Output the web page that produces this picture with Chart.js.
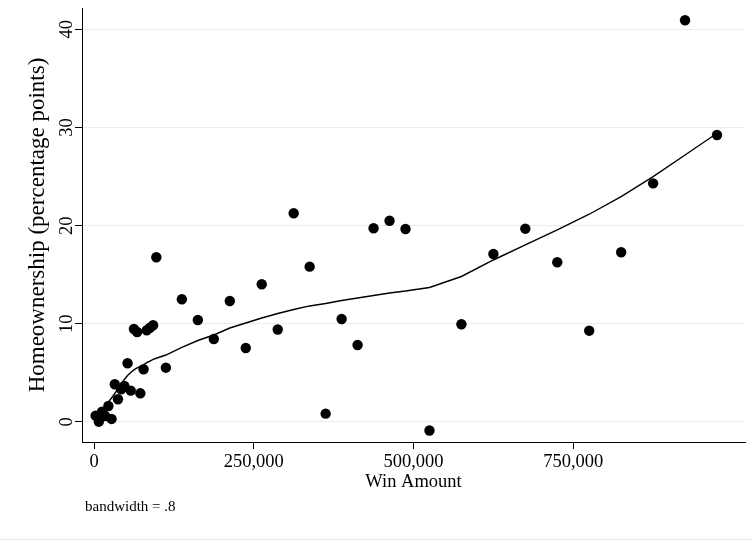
<!DOCTYPE html>
<html>
<head>
<meta charset="utf-8">
<title>Homeownership by Win Amount</title>
<script src="https://cdn.jsdelivr.net/npm/chart.js@4/dist/chart.umd.min.js"></script>
<style>
  html, body { margin: 0; padding: 0; background: #ffffff; }
  #wrap { width: 753px; height: 542px; }
</style>
</head>
<body>
<div id="wrap"><canvas id="chart" width="753" height="542"></canvas></div>
<script>
// Win amount (bin midpoints, dollars)
const winAmount = [
  2500, 7500, 12500, 17500, 22500, 27500, 32500, 37500, 42500, 47500,
  52500, 57500, 62500, 67500, 72500, 77500, 82500, 87500, 92500, 97500,
  112500, 137500, 162500, 187500, 212500, 237500, 262500, 287500,
  312500, 337500, 362500, 387500, 412500, 437500, 462500, 487500,
  525000, 575000, 625000, 675000, 725000, 775000, 825000, 875000, 925000, 975000
];

// Homeownership effect (percentage points) per bin
const homeownership = [
  0.64, 0.03, 1.05, 0.61, 1.63, 0.31, 3.84, 2.31, 3.33, 3.67,
  5.98, 3.19, 9.47, 9.17, 2.92, 5.37, 9.34, 9.60, 9.85, 16.78,
  5.53, 12.50, 10.39, 8.45, 12.32, 7.54, 14.03, 9.42,
  21.26, 15.82, 0.85, 10.49, 7.84, 19.73, 20.50, 19.66,
  -0.87, 9.95, 17.11, 19.69, 16.27, 9.30, 17.29, 24.31, 40.92, 29.23
];

// Lowess fit at each bin (bandwidth = .8)
const lowessFit = [
  0.41, 0.81, 1.22, 1.63, 2.04, 2.44, 2.90, 3.36, 3.87, 4.33,
  4.74, 5.04, 5.30, 5.50, 5.65, 5.81, 6.04, 6.21, 6.37, 6.49,
  6.82, 7.59, 8.30, 8.86, 9.57, 10.08, 10.59, 11.05,
  11.46, 11.82, 12.07, 12.38, 12.63, 12.89, 13.14, 13.34,
  13.70, 14.82, 16.50, 18.03, 19.56, 21.16, 22.95, 24.99, 27.20, 29.41
];

// Axis ticks
const xTickValues = [0, 250000, 500000, 750000];
const xTickLabels = ['0', '250,000', '500,000', '750,000'];
const yTickValues = [0, 10, 20, 30, 40];
const yTickLabels = ['0', '10', '20', '30', '40'];

const SERIF = '"Liberation Serif", "Times New Roman", serif';

// Vertical y tick labels, the bandwidth note and the bottom rule
const decorations = {
  id: 'decorations',
  afterDraw(chart) {
    const { ctx, scales: { y } } = chart;
    ctx.save();
    ctx.fillStyle = '#000';
    ctx.font = '18.5px ' + SERIF;
    ctx.textAlign = 'center';
    ctx.textBaseline = 'middle';
    yTickValues.forEach((v, i) => {
      const py = y.getPixelForValue(v);
      ctx.save();
      ctx.translate(67, py);
      ctx.rotate(-Math.PI / 2);
      ctx.fillText(yTickLabels[i], 0, 0);
      ctx.restore();
    });

    ctx.font = '15px ' + SERIF;
    ctx.textAlign = 'left';
    ctx.fillText('bandwidth = .8', 85, 507);

    ctx.strokeStyle = '#e3e7ea';
    ctx.lineWidth = 1;
    ctx.beginPath();
    ctx.moveTo(0, 539.5);
    ctx.lineTo(753, 539.5);
    ctx.stroke();
    ctx.restore();
  }
};

new Chart(document.getElementById('chart'), {
  type: 'scatter',
  data: {
    datasets: [
      {
        label: 'Lowess',
        type: 'line',
        data: winAmount.map((x, i) => ({ x, y: lowessFit[i] })),
        borderColor: '#000',
        borderWidth: 1.4,
        pointRadius: 0,
        tension: 0,
        fill: false
      },
      {
        label: 'Homeownership',
        data: winAmount.map((x, i) => ({ x, y: homeownership[i] })),
        backgroundColor: '#000',
        borderColor: '#000',
        borderWidth: 0,
        pointRadius: 5.2,
        pointHoverRadius: 5.2
      }
    ]
  },
  options: {
    responsive: false,
    devicePixelRatio: 1,
    animation: false,
    layout: { padding: { left: 0, right: 8, top: 8, bottom: 0 } },
    plugins: {
      legend: { display: false },
      tooltip: { enabled: false }
    },
    scales: {
      x: {
        type: 'linear',
        min: -18800,
        max: 1018800,
        afterBuildTicks: s => { s.ticks = xTickValues.map(v => ({ value: v })); },
        afterFit: s => { s.height = 100; },
        border: { display: true, color: '#000', width: 1 },
        grid: {
          drawOnChartArea: false,
          drawTicks: true,
          tickLength: 7,
          tickColor: '#000'
        },
        ticks: {
          color: '#000',
          padding: 2,
          maxRotation: 0,
          font: { family: SERIF, size: 18.5 },
          callback: (v, i) => xTickLabels[i]
        },
        title: {
          display: true,
          text: 'Win Amount',
          color: '#000',
          font: { family: SERIF, size: 18.5 },
          padding: { top: 0, bottom: 49 }
        }
      },
      y: {
        type: 'linear',
        min: -2.04,
        max: 42.17,
        afterBuildTicks: s => { s.ticks = yTickValues.map(v => ({ value: v })); },
        afterFit: s => { s.width = 82; },
        border: { display: true, color: '#000', width: 1 },
        grid: {
          color: '#e6eef1',
          lineWidth: 1,
          drawTicks: true,
          tickLength: 7,
          tickColor: '#000'
        },
        ticks: { display: false },
        title: {
          display: true,
          text: 'Homeownership (percentage points)',
          color: '#000',
          font: { family: SERIF, size: 23 },
          padding: { top: 24, bottom: 0 }
        }
      }
    }
  },
  plugins: [decorations]
});
</script>
</body>
</html>
